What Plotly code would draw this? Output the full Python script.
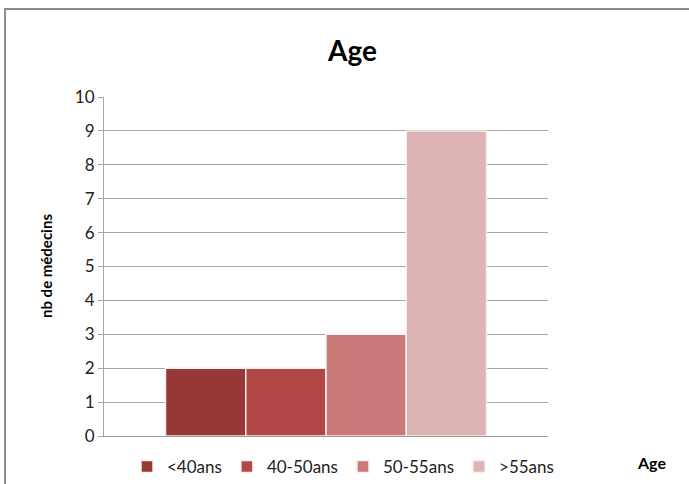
import plotly.graph_objects as go

categories = ["Age"]
series_names = ["<40ans", "40-50ans", "50-55ans", ">55ans"]
series_values = [[2], [2], [3], [9]]
colors = ["#953836", "#B24846", "#C97A79", "#DEB3B3"]
y_ticks = list(range(0, 11))

W, H = 689, 484
L, R, T, B = 104, 548, 97, 436
pw, ph = R - L, B - T

def px(x):
    return (x - L) / pw

def py(y):
    return (B - y) / ph

fig = go.Figure()
for name, vals, col in zip(series_names, series_values, colors):
    fig.add_trace(go.Bar(
        x=categories, y=vals, name=name,
        marker=dict(color=col, line=dict(color="#f4f0f0", width=1.5)),
    ))

font_family = "Lato, Open Sans, sans-serif"

fig.update_layout(
    width=W, height=H,
    margin=dict(l=L, r=W - R, t=T, b=H - B, pad=0, autoexpand=False),
    paper_bgcolor="white", plot_bgcolor="white",
    barmode="group", bargap=0.277, bargroupgap=0,
    showlegend=True,
    legend=dict(orientation="h", xref="container", yref="container",
                x=343 / W, xanchor="center", y=1 - 467 / H, yanchor="middle",
                font=dict(family=font_family, size=17, color="#222"),
                itemwidth=30, tracegroupgap=0),
    font=dict(family=font_family, color="#222"),
    xaxis=dict(showticklabels=False, showgrid=False, showline=True, linecolor="#999",
               linewidth=1, ticks="", zeroline=False),
    yaxis=dict(range=[0, 10], tickvals=y_ticks, showgrid=True, gridcolor="#a6a6a6",
               gridwidth=1, showline=True, linecolor="#a6a6a6", linewidth=1,
               ticks="outside", ticklen=5, tickcolor="#a6a6a6", zeroline=False,
               tickfont=dict(family=font_family, size=17, color="#222")),
    annotations=[
        dict(text="<b>Age</b>", x=px(352), y=py(50), xref="paper", yref="paper",
             showarrow=False, font=dict(family=font_family, size=28, color="black"),
             xanchor="center", yanchor="middle"),
        dict(text="<b>nb de médecins</b>", x=px(46), y=py(266), xref="paper", yref="paper",
             showarrow=False, textangle=-90, font=dict(family=font_family, size=15, color="black"),
             xanchor="center", yanchor="middle"),
        dict(text="<b>Age</b>", x=px(651), y=py(462), xref="paper", yref="paper",
             showarrow=False, font=dict(family=font_family, size=16, color="black"),
             xanchor="center", yanchor="middle"),
    ],
    shapes=[
        dict(type="rect", xref="paper", yref="paper", x0=px(5), x1=px(720), y0=py(520), y1=py(9),
             line=dict(color="#8c8c8c", width=2), fillcolor="rgba(0,0,0,0)", layer="below"),
    ],
)

fig.write_html("out.html", config={"displayModeBar": False},
               post_script="document.body.style.margin='0';")
